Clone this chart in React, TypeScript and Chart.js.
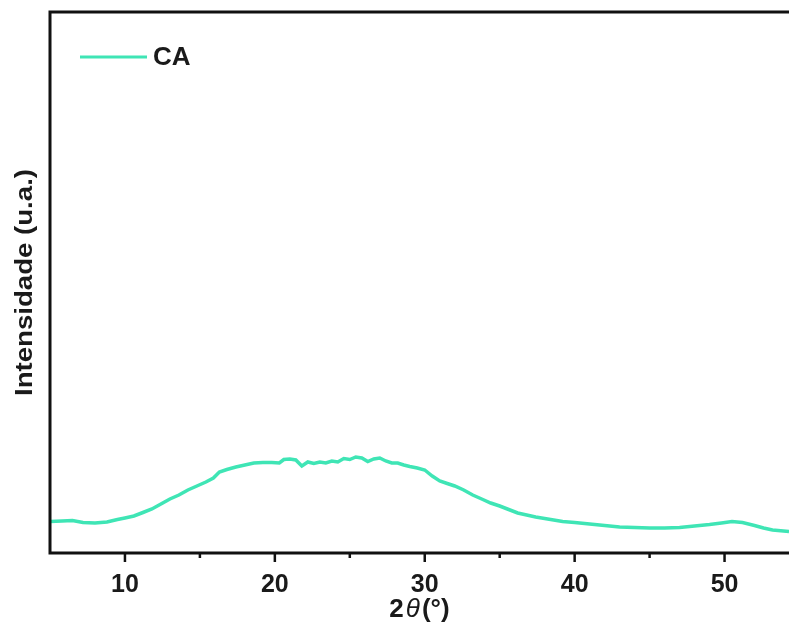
import React, { useEffect, useRef } from "react";
import { Chart, registerables } from "chart.js";

Chart.register(...registerables);

const SERIES_LABEL = "CA";
const LINE_COLOR = "#3fe5b5";
const TWO_THETA: number[] = [
  5.0, 5.8, 6.5, 7.2, 8.0, 8.8, 9.5, 10.0, 10.6, 11.2, 11.8, 12.4, 13.0, 13.6, 14.2, 14.8,
  15.4, 15.9, 16.3, 16.8, 17.4, 18.0, 18.6, 19.2, 19.8, 20.3, 20.6, 21.0, 21.4, 21.8, 22.2,
  22.6, 23.0, 23.4, 23.8, 24.2, 24.6, 25.0, 25.4, 25.8, 26.2, 26.6, 27.0, 27.4, 27.8, 28.2,
  28.6, 29.0, 29.5, 30.0, 30.5, 31.0, 31.5, 32.0, 32.6, 33.2, 33.8, 34.4, 35.0, 35.6, 36.2,
  36.8, 37.4, 38.0, 38.6, 39.2, 40.0, 41.0, 42.0, 43.0, 44.0, 45.0, 46.0, 47.0, 48.0, 49.0,
  49.8, 50.5, 51.2, 52.0, 52.6, 53.2, 54.3,
];
const INTENSITY: number[] = [
  31.5, 32, 32.5, 30.5, 30, 31, 33.5, 35, 37, 40.5, 44, 49, 54, 58, 63, 67,
  71, 75, 81, 83.5, 86, 88, 90, 90.5, 90.5, 90, 93.5, 94, 93, 87, 91,
  89.5, 91, 90, 92, 91, 94.5, 93.5, 96, 95, 91.5, 94, 95, 92, 90, 90,
  88, 86.5, 85, 83, 77, 72, 69.5, 67, 63, 58, 54, 50, 47, 43.5, 40,
  38, 36, 34.5, 33, 31.5, 30.5, 29, 27.5, 26, 25.5, 25, 25, 25.5, 27, 28.5,
  30, 31.5, 30.5, 27.5, 25, 23, 21.5,
];
const MAJOR_TICKS: number[] = [10, 20, 30, 40, 50];
const MINOR_TICKS: number[] = [15, 25, 35, 45];
const X_TITLE_MAIN = "2";
const X_TITLE_THETA = "θ";
const X_TITLE_UNIT = "(°)";
const Y_TITLE = "Intensidade (u.a.)";

const FONT = "'Liberation Sans', Arial, Helvetica, sans-serif";

const decorPlugin = {
  id: "decor",
  afterDatasetsDraw(chart: any) {
    const { ctx, chartArea, scales } = chart;
    const xs = scales.x;
    const { left, top, right, bottom } = chartArea;
    ctx.save();
    ctx.strokeStyle = "#111";
    ctx.lineWidth = 3;
    ctx.beginPath();
    ctx.moveTo(right + 2, top);
    ctx.lineTo(left, top);
    ctx.lineTo(left, bottom);
    ctx.lineTo(right + 2, bottom);
    ctx.stroke();
    ctx.lineWidth = 2.5;
    MAJOR_TICKS.forEach((v) => {
      const px = xs.getPixelForValue(v);
      ctx.beginPath();
      ctx.moveTo(px, bottom);
      ctx.lineTo(px, bottom + 9);
      ctx.stroke();
    });
    MINOR_TICKS.forEach((v) => {
      const px = xs.getPixelForValue(v);
      ctx.beginPath();
      ctx.moveTo(px, bottom);
      ctx.lineTo(px, bottom + 5);
      ctx.stroke();
    });
    ctx.fillStyle = "#1a1a1a";
    ctx.font = `bold 25px ${FONT}`;
    ctx.textAlign = "center";
    ctx.textBaseline = "middle";
    MAJOR_TICKS.forEach((v) => {
      ctx.fillText(String(v), xs.getPixelForValue(v), bottom + 32);
    });
    const cx = (left + right) / 2;
    const ty = bottom + 57;
    ctx.font = `bold 26px ${FONT}`;
    const w1 = ctx.measureText(X_TITLE_MAIN).width;
    ctx.font = `italic 26px ${FONT}`;
    const w2 = ctx.measureText(X_TITLE_THETA).width + 4;
    ctx.font = `bold 26px ${FONT}`;
    const w3 = ctx.measureText(X_TITLE_UNIT).width;
    let sx = cx - (w1 + w2 + w3) / 2;
    ctx.textAlign = "left";
    ctx.fillText(X_TITLE_MAIN, sx, ty);
    sx += w1;
    ctx.font = `italic 26px ${FONT}`;
    ctx.fillText(X_TITLE_THETA, sx + 2, ty);
    sx += w2;
    ctx.font = `bold 26px ${FONT}`;
    ctx.fillText(X_TITLE_UNIT, sx, ty);
    ctx.save();
    ctx.translate(25, (top + bottom) / 2);
    ctx.rotate(-Math.PI / 2);
    ctx.font = `bold 24px ${FONT}`;
    const yw = ctx.measureText(Y_TITLE).width;
    ctx.scale(227 / yw, 1);
    ctx.textAlign = "center";
    ctx.fillText(Y_TITLE, 0, 0);
    ctx.restore();
    const ds = chart.data.datasets[0];
    ctx.strokeStyle = ds.borderColor;
    ctx.lineWidth = 3;
    ctx.beginPath();
    ctx.moveTo(80, 57);
    ctx.lineTo(147, 57);
    ctx.stroke();
    ctx.fillStyle = "#1a1a1a";
    ctx.font = `bold 26px ${FONT}`;
    ctx.textAlign = "left";
    ctx.fillText(ds.label, 153, 58);
    ctx.restore();
  },
};

export default function App() {
  const ref = useRef<HTMLCanvasElement | null>(null);
  useEffect(() => {
    document.body.style.margin = "0";
    const canvas = ref.current;
    if (!canvas) return;
    const chart = new Chart(canvas, {
      type: "line",
      data: {
        datasets: [
          {
            label: SERIES_LABEL,
            data: TWO_THETA.map((x, i) => ({ x, y: INTENSITY[i] })),
            borderColor: LINE_COLOR,
            borderWidth: 3.5,
            pointRadius: 0,
            tension: 0,
            fill: false,
          },
        ],
      },
      options: {
        animation: false,
        responsive: false,
        devicePixelRatio: 1,
        layout: { padding: { top: 12, right: 0, left: 0, bottom: 0 } },
        plugins: { legend: { display: false }, tooltip: { enabled: false } },
        scales: {
          x: {
            type: "linear",
            min: 5,
            max: 54.3,
            grid: { display: false },
            border: { display: false },
            ticks: { display: false },
            afterFit: (s: any) => {
              s.height = 70;
            },
          },
          y: {
            type: "linear",
            min: 0,
            max: 541,
            grid: { display: false },
            border: { display: false },
            ticks: { display: false },
            afterFit: (s: any) => {
              s.width = 50;
            },
          },
        },
      },
      plugins: [decorPlugin],
    });
    return () => chart.destroy();
  }, []);
  return (
    <div style={{ position: "absolute", left: 0, top: 0, width: 789, height: 623, background: "#fff" }}>
      <canvas ref={ref} width={789} height={623} />
    </div>
  );
}
